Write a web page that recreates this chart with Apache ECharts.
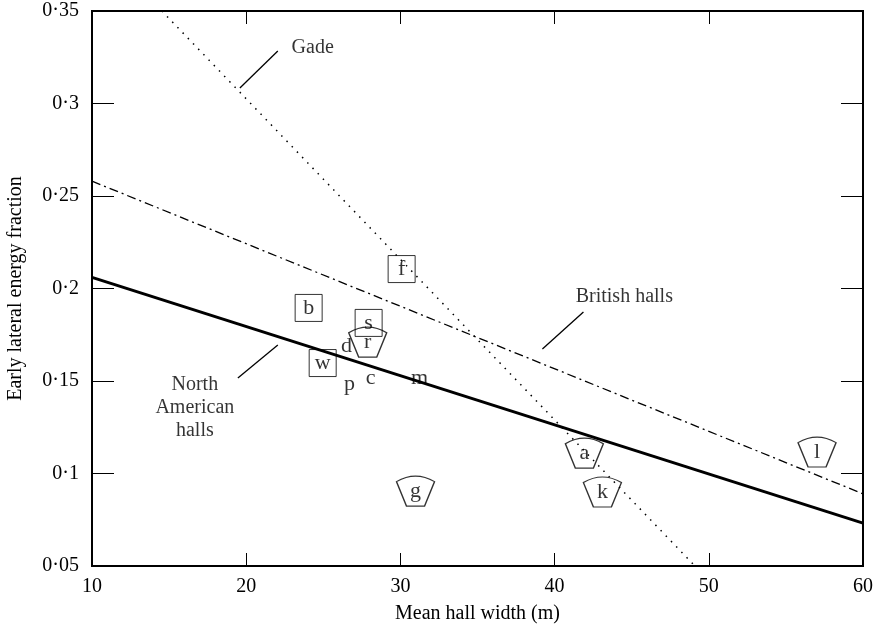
<!DOCTYPE html>
<html>
<head>
<meta charset="utf-8">
<script src="https://cdn.jsdelivr.net/npm/echarts@6/dist/echarts.min.js"></script>
<style>html,body{margin:0;padding:0;background:#fff;}#c{width:877px;height:633px;}</style>
</head>
<body>
<div id="c"></div>
<script>
// ---- data ----
const xTicks = [10, 20, 30, 40, 50, 60];
const yTickLabels = ['0·05', '0·1', '0·15', '0·2', '0·25', '0·3', '0·35'];

// hall markers: [width, fraction, letter]
const boxHalls = [[24.05, 0.1895, 'b'], [30.08, 0.2105, 'f'], [27.94, 0.1814, 's'], [24.96, 0.1597, 'w']];
const fanHalls = [[27.88, 0.1710, 'r'], [41.93, 0.1110, 'a'], [43.10, 0.0900, 'k'], [57.02, 0.1116, 'l'], [30.98, 0.0905, 'g']];
const plainHalls = [[26.5, 0.1690, 'd'], [26.7, 0.1484, 'p'], [28.07, 0.1516, 'c'], [31.24, 0.1516, 'm']];

// regression lines
const northAmerican = [[10, 0.2060], [60, 0.0732]];
const britishHalls = [[10, 0.2580], [60, 0.0890]];
const gade = [[14.53, 0.35], [49.1, 0.05]];

// annotations
const gadePointer = [[19.59, 0.3084], [22.05, 0.3284]];
const britishPointer = [[39.21, 0.1673], [41.87, 0.1873]];
const naPointer = [[19.46, 0.1516], [22.05, 0.1695]];
const annotationTexts = [[24.31, 0.3300, 'Gade'], [44.52, 0.1954, 'British halls'], [16.67, 0.1354, 'North\nAmerican\nhalls']];

const FONT = "'Liberation Serif', 'DejaVu Serif', serif";
const fanPath = 'path://M0,8 Q19,-2 38,8 L28,30 L10,30 Z';

function letterLabel(size) {
  return {show: true, position: 'inside', formatter: p => p.data[2], color: '#000',
          fontFamily: FONT, fontSize: size};
}
function segment(data, style) {
  return {type: 'line', data: data, symbol: 'none', silent: true, lineStyle: style,
          xAxisIndex: 0, yAxisIndex: 0, z: 3};
}

const chart = echarts.init(document.getElementById('c'));
const tickStyle = {color: '#000', width: 1};
chart.setOption({
  animation: false,
  backgroundColor: '#fff',
  grid: {left: 92, right: 14, top: 11, bottom: 67, show: true, borderColor: '#000', borderWidth: 2,
         backgroundColor: 'transparent', containLabel: false, outerBoundsMode: 'none'},
  xAxis: [
    {type: 'value', min: xTicks[0], max: xTicks[xTicks.length - 1], interval: 10, position: 'bottom',
     axisLine: {show: false}, splitLine: {show: false},
     axisTick: {inside: true, length: 13, lineStyle: tickStyle},
     axisLabel: {color: '#000', fontFamily: FONT, fontSize: 20, margin: 11},
     name: 'Mean hall width (m)', nameLocation: 'middle', nameGap: 38,
     nameTextStyle: {color: '#000', fontFamily: FONT, fontSize: 20}},
    {type: 'value', min: xTicks[0], max: xTicks[xTicks.length - 1], interval: 10, position: 'top',
     axisLine: {show: false}, splitLine: {show: false},
     axisTick: {inside: true, length: 13, lineStyle: tickStyle}, axisLabel: {show: false}}
  ],
  yAxis: [
    {type: 'value', min: 0.05, max: 0.35, interval: 0.05, position: 'left',
     axisLine: {show: false}, splitLine: {show: false},
     axisTick: {inside: true, length: 22, lineStyle: tickStyle},
     axisLabel: {color: '#000', fontFamily: FONT, fontSize: 20, margin: 13,
                 formatter: v => yTickLabels[Math.round((v - 0.05) / 0.05)]},
     name: 'Early lateral energy fraction', nameLocation: 'middle', nameGap: 66,
     nameTextStyle: {color: '#000', fontFamily: FONT, fontSize: 20}},
    {type: 'value', min: 0.05, max: 0.35, interval: 0.05, position: 'right',
     axisLine: {show: false}, splitLine: {show: false},
     axisTick: {inside: true, length: 22, lineStyle: tickStyle}, axisLabel: {show: false}}
  ],
  series: [
    segment(northAmerican, {color: '#000', width: 3}),
    segment(britishHalls, {color: '#000', width: 1.3, type: [9, 4, 2, 4]}),
    segment(gade, {color: '#000', width: 1.5, type: [1.5, 6]}),
    segment(gadePointer, {color: '#000', width: 1.3}),
    segment(britishPointer, {color: '#000', width: 1.3}),
    segment(naPointer, {color: '#000', width: 1.3}),
    {type: 'scatter', data: boxHalls, symbol: 'rect', symbolSize: 27, z: 4,
     itemStyle: {color: 'rgba(0,0,0,0)', borderColor: '#000', borderWidth: 1},
     label: letterLabel(22)},
    {type: 'scatter', data: fanHalls, symbol: fanPath, symbolSize: [38, 30], z: 4,
     itemStyle: {color: 'rgba(0,0,0,0)', borderColor: '#000', borderWidth: 1.3},
     label: letterLabel(22)},
    {type: 'scatter', data: plainHalls, symbol: 'circle', symbolSize: 1, z: 4,
     itemStyle: {color: 'rgba(0,0,0,0)'}, label: letterLabel(22)},
    {type: 'scatter', data: annotationTexts, symbol: 'circle', symbolSize: 1, z: 4,
     itemStyle: {color: 'rgba(0,0,0,0)'},
     label: {show: true, position: 'inside', formatter: p => p.data[2], color: '#000',
             fontFamily: FONT, fontSize: 20, lineHeight: 23, align: 'center'}}
  ]
});
</script>
</body>
</html>
